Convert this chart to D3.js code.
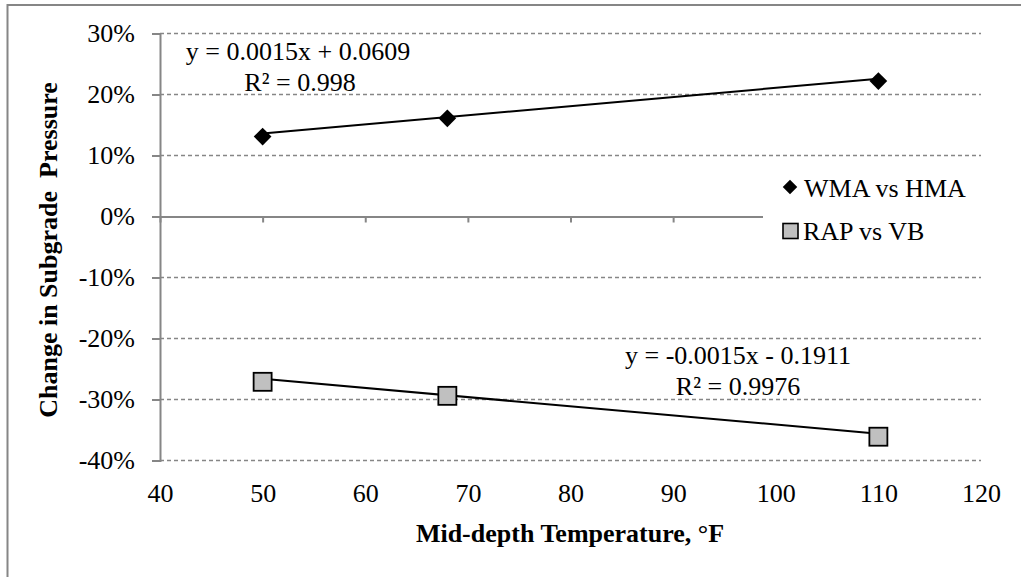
<!DOCTYPE html>
<html>
<head>
<meta charset="utf-8">
<script src="https://cdn.jsdelivr.net/npm/d3@7"></script>
<style>
  html, body { margin: 0; padding: 0; background: #fff; }
  svg { display: block; }
</style>
</head>
<body>
<svg id="chart" width="1021" height="577" font-family="Liberation Serif" fill="#000"></svg>
<script>
// Mid-depth temperatures (°F)
const temps = [50, 68, 110];
// Change in subgrade pressure, fraction
const wmaVsHma = [0.131, 0.161, 0.222];
const rapVsVb = [-0.271, -0.294, -0.361];
// Linear trend coefficients [slope, intercept]
const wmaTrend = [0.0015, 0.0609];
const rapTrend = [-0.0015, -0.1911];
const wmaLabel = ["y = 0.0015x + 0.0609", "R² = 0.998"];
const rapLabel = ["y = -0.0015x - 0.1911", "R² = 0.9976"];
const seriesNames = ["WMA vs HMA", "RAP vs VB"];
const xTicks = [40, 50, 60, 70, 80, 90, 100, 110, 120];
const yTicks = [0.3, 0.2, 0.1, 0, -0.1, -0.2, -0.3, -0.4];

const svg = d3.select("#chart");
const gray = "#868686";
const FONT = "Liberation Serif";
const FS = 26;

const x = d3.scaleLinear().domain([40, 120]).range([160, 981]);
const y = d3.scaleLinear().domain([-0.4, 0.3]).range([460.5, 33.5]);

// outer frame (top and left edges)
svg.append("path")
  .attr("d", "M7.5,577 V5 H1021")
  .attr("fill", "none").attr("stroke", gray).attr("stroke-width", 2);

// dashed gridlines
svg.append("g").selectAll("line").data(yTicks.filter(v => v !== 0)).join("line")
  .attr("x1", x(40)).attr("x2", x(120))
  .attr("y1", d => y(d)).attr("y2", d => y(d))
  .attr("stroke", gray).attr("stroke-width", 1.4).attr("stroke-dasharray", "4,3");

// y axis
const yAxis = d3.axisLeft(y).tickValues(yTicks).tickSize(8).tickPadding(17)
  .tickFormat(d => Math.round(d * 100) + "%");
const gy = svg.append("g").attr("transform", `translate(${x(40)},0)`).call(yAxis)
  .attr("font-family", FONT).attr("font-size", FS);
gy.select(".domain").attr("stroke", gray).attr("stroke-width", 2);
gy.selectAll(".tick line").attr("stroke", gray).attr("stroke-width", 2);
gy.selectAll(".tick text").attr("fill", "#000");

// horizontal axis line crossing at 0%, with its tick marks
const gz = svg.append("g").attr("transform", `translate(0,${y(0)})`)
  .call(d3.axisBottom(x).tickValues(xTicks).tickSize(6).tickSizeOuter(0).tickFormat(""));
gz.select(".domain").attr("stroke", gray).attr("stroke-width", 2);
gz.selectAll(".tick line").attr("stroke", gray).attr("stroke-width", 2);

// category labels sit below the plot
const gx = svg.append("g").attr("transform", `translate(0,${y(-0.4)})`)
  .call(d3.axisBottom(x).tickValues(xTicks).tickSize(0).tickPadding(23))
  .attr("font-family", FONT).attr("font-size", FS);
gx.select(".domain").remove();
gx.selectAll(".tick text").attr("fill", "#000");

// axis titles
svg.append("text").attr("x", 570).attr("y", 542)
  .attr("text-anchor", "middle").attr("font-size", FS).attr("font-weight", "bold")
  .text("Mid-depth Temperature, °F");
svg.append("text")
  .attr("transform", "translate(56.5,250) rotate(-90)")
  .attr("text-anchor", "middle").attr("font-size", FS).attr("font-weight", "bold")
  .attr("xml:space", "preserve").style("white-space", "pre")
  .text("Change in Subgrade  Pressure");

// linear trendlines over the measured range
const trendLine = (coef) => {
  const [x0, x1] = d3.extent(temps);
  return [[x0, coef[0] * x0 + coef[1]], [x1, coef[0] * x1 + coef[1]]];
};
const line = d3.line().x(d => x(d[0])).y(d => y(d[1]));
svg.append("path").attr("d", line(trendLine(wmaTrend)))
  .attr("fill", "none").attr("stroke", "#000").attr("stroke-width", 2);
svg.append("path").attr("d", line(trendLine(rapTrend)))
  .attr("fill", "none").attr("stroke", "#000").attr("stroke-width", 2);

// legend background hides the axis line beneath it
const lg = svg.append("g");
lg.append("rect").attr("x", 763).attr("y", 163).attr("width", 225).attr("height", 104).attr("fill", "#fff");

// markers
svg.append("g").selectAll("path").data(temps).join("path")
  .attr("d", d3.symbol().type(d3.symbolDiamond2).size(200))
  .attr("transform", (d, i) => `translate(${x(d)},${y(wmaVsHma[i])})`)
  .attr("fill", "#000");
svg.append("g").selectAll("rect").data(temps).join("rect")
  .attr("x", d => x(d) - 9).attr("y", (d, i) => y(rapVsVb[i]) - 9)
  .attr("width", 18).attr("height", 18)
  .attr("fill", "#c0c0c0").attr("stroke", "#000").attr("stroke-width", 1.8);

// legend entries
lg.append("path").attr("d", d3.symbol().type(d3.symbolDiamond2).size(135))
  .attr("transform", "translate(790,187)").attr("fill", "#000");
lg.append("text").attr("x", 804).attr("y", 197).attr("font-size", FS).text(seriesNames[0]);
lg.append("rect").attr("x", 783).attr("y", 223.5).attr("width", 15).attr("height", 15)
  .attr("fill", "#c0c0c0").attr("stroke", "#000").attr("stroke-width", 1.6);
lg.append("text").attr("x", 803).attr("y", 240).attr("font-size", FS).text(seriesNames[1]);

// trend equations
const eq = svg.append("g").attr("font-size", FS).attr("text-anchor", "middle");
eq.append("text").attr("x", 298).attr("y", 60).text(wmaLabel[0]);
eq.append("text").attr("x", 300).attr("y", 91).text(wmaLabel[1]);
eq.append("text").attr("x", 738).attr("y", 364).text(rapLabel[0]);
eq.append("text").attr("x", 738).attr("y", 395).text(rapLabel[1]);
</script>
</body>
</html>
